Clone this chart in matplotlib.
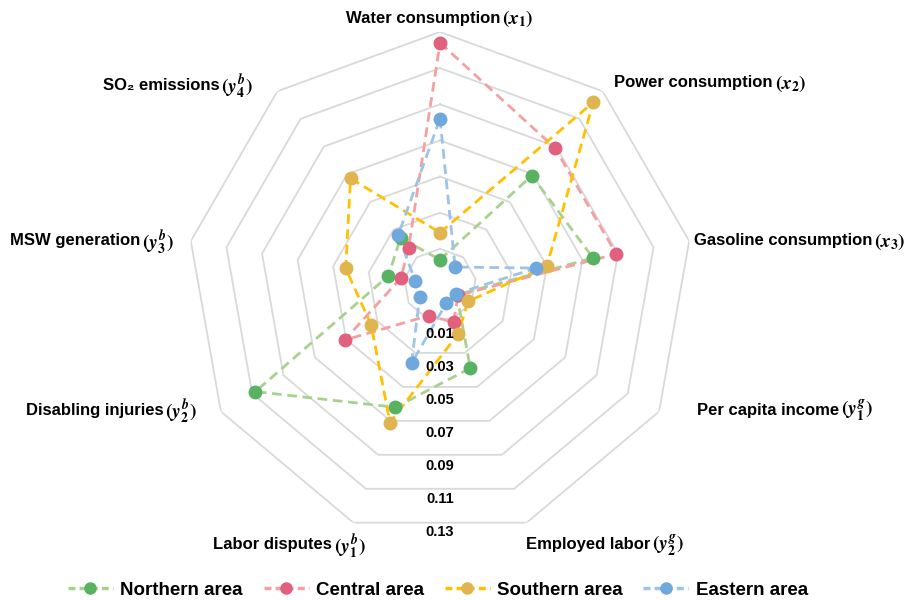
import numpy as np
import matplotlib
matplotlib.use("Agg")
import matplotlib.pyplot as plt
from matplotlib.lines import Line2D

plt.rcParams['font.family'] = ['Liberation Sans', 'DejaVu Sans']
plt.rcParams['font.weight'] = 'bold'
plt.rcParams['mathtext.fontset'] = 'stix'

category_names = [
    'Water consumption',
    'Power consumption',
    'Gasoline consumption',
    'Per capita income',
    'Employed labor',
    'Labor disputes',
    'Disabling injuries',
    'MSW generation',
    'SO₂ emissions',
]
category_symbols = [
    r'$(x_1)$', r'$(x_2)$', r'$(x_3)$', r'$(y_1^g)$', r'$(y_2^g)$',
    r'$(y_1^b)$', r'$(y_2^b)$', r'$(y_3^b)$', r'$(y_4^b)$',
]
series_names = ['Northern area', 'Central area', 'Southern area', 'Eastern area']
northern = [0.004, 0.069, 0.076, 0.0008, 0.039, 0.062, 0.108, 0.019, 0.024]
central = [0.124, 0.089, 0.089, 0.0015, 0.012, 0.008, 0.051, 0.012, 0.017]
southern = [0.019, 0.122, 0.050, 0.008, 0.019, 0.071, 0.034, 0.043, 0.067]
eastern = [0.082, 0.003, 0.044, 0.0, 0.0005, 0.036, 0.003, 0.004, 0.026]
tick_values = [0.01, 0.03, 0.05, 0.07, 0.09, 0.11, 0.13]
tick_labels = ['0.01', '0.03', '0.05', '0.07', '0.09', '0.11', '0.13']

line_colors = ['#a9d18e', '#f4a0a0', '#ffc000', '#9dc3e6']
marker_colors = ['#57b262', '#e0607e', '#e0b44f', '#6fa8dc']

W, H = 921, 600
fig = plt.figure(figsize=(W / 100, H / 100), dpi=100)
cx, cy, R = 440, 285, 253
ax = fig.add_axes([(cx - R) / W, 1 - (cy + R) / H, 2 * R / W, 2 * R / H], projection='polar')
ax.set_theta_zero_location('N')
ax.set_theta_direction(-1)
rmin, rmax = -0.01, 0.13
ax.set_ylim(rmin, rmax)
ax.grid(False)
ax.spines['polar'].set_visible(False)
ax.set_xticks([])
ax.set_yticks([])
ax.patch.set_alpha(0)

n = len(category_names)
theta = np.arange(n) * 2 * np.pi / n
theta_c = np.append(theta, theta[0])

for v in tick_values:
    ax.plot(theta_c, [v] * (n + 1), color='#d9d9d9', lw=1.3, zorder=1)

for vals, name, lc, mc in zip([northern, central, southern, eastern], series_names, line_colors, marker_colors):
    vv = np.append(vals, vals[0])
    ax.plot(theta_c, vv, color=lc, lw=2.0, dashes=(3.5, 2.0), zorder=3)
    ax.plot(theta, vals, ls='none', marker='o', ms=9, mfc=mc, mec=mc, zorder=4)

# radial tick labels, placed along the downward direction
for k, lab in enumerate(tick_labels):
    ypx = 334 + 33 * k
    fig.text(cx / W, 1 - ypx / H, lab, ha='center', va='center', fontsize=10.5,
             fontweight='bold', color='#000000', zorder=2)

# category labels: plain part + larger math part
label_pos = [
    (440, 18, 'center'),
    (614, 83, 'left'),
    (694, 241, 'left'),
    (697, 410, 'left'),
    (526, 545, 'left'),
    (366, 545, 'right'),
    (197, 410, 'right'),
    (174, 241, 'right'),
    (253, 85, 'right'),
]
renderer = fig.canvas.get_renderer()
gap = 2
for name, sym, (x, y, ha) in zip(category_names, category_symbols, label_pos):
    t1 = fig.text(0, 0, name, ha='left', va='center', fontsize=12, fontweight='bold', color='#000000')
    t2 = fig.text(0, 0, sym, ha='left', va='center', fontsize=14, color='#000000')
    w1 = t1.get_window_extent(renderer).width
    w2 = t2.get_window_extent(renderer).width
    total = w1 + gap + w2
    if ha == 'left':
        x0 = x
    elif ha == 'right':
        x0 = x - total
    else:
        x0 = x - total / 2
    t1.set_position((x0 / W, 1 - y / H))
    t2.set_position(((x0 + w1 + gap) / W, 1 - (y + 1) / H))

handles = [Line2D([0], [0], color=lc, lw=2.5, dashes=(2.0, 1.2), marker='o', ms=8, mfc=mc, mec=mc)
           for lc, mc in zip(line_colors, marker_colors)]
fig.legend(handles, series_names, loc='center', bbox_to_anchor=(438 / W, 1 - 590 / H), ncol=4,
           frameon=False, prop={'size': 13.5, 'weight': 'bold'}, handlelength=2.4,
           handletextpad=0.4, columnspacing=1.1)

fig.savefig('out.png', dpi=100)
